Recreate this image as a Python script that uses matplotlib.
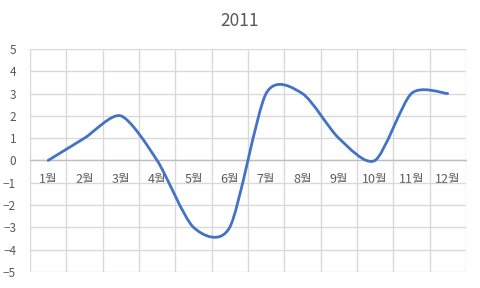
import matplotlib
matplotlib.use("Agg")
import matplotlib.pyplot as plt
import numpy as np
from matplotlib.path import Path
from matplotlib.patches import PathPatch

plt.rcParams['font.family'] = ['Noto Sans CJK KR', 'DejaVu Sans']

# chart data
months = ['1월', '2월', '3월', '4월', '5월', '6월',
          '7월', '8월', '9월', '10월', '11월', '12월']
values = [0, 1, 2, 0, -3, -3, 3, 3, 1, 0, 3, 3]
y_ticks = list(range(-5, 6))
title = '2011'

TEXT = '#595959'
GRID = '#D9D9D9'
LINE = '#4472C4'


def smooth_path(xs, ys, k=0.13):
    """Smoothed line like Excel: cubic Bezier segments through every point."""
    pts = np.column_stack([xs, ys]).astype(float)
    n = len(pts)
    verts = [pts[0]]
    codes = [Path.MOVETO]
    for i in range(n - 1):
        p0 = pts[i - 1] if i > 0 else pts[i]
        p1 = pts[i]
        p2 = pts[i + 1]
        p3 = pts[i + 2] if i + 2 < n else pts[i + 1]
        c1 = p1 + (p2 - p0) * k
        c2 = p2 - (p3 - p1) * k
        verts += [c1, c2, p2]
        codes += [Path.CURVE4] * 3
    return Path(verts, codes)


fig = plt.figure(figsize=(4.8, 2.88), dpi=100)
ax = fig.add_axes([0.0625, 0.056, 0.908, 0.774])

x = np.arange(len(months))
ax.set_xlim(-0.5, len(months) - 0.5)
ax.set_ylim(-5, 5)

# gridlines
ax.set_yticks(y_ticks)
ax.set_xticks(x)
ax.set_xticks(np.arange(-0.5, len(months)), minor=True)
ax.grid(True, axis='y', color=GRID, linewidth=1)
ax.grid(True, axis='x', which='minor', color=GRID, linewidth=1)
ax.grid(False, axis='x', which='major')
ax.set_axisbelow(True)

for side in ['top', 'right', 'left']:
    ax.spines[side].set_visible(False)
ax.spines['bottom'].set_position(('data', 0))
ax.spines['bottom'].set_color('#BFBFBF')
ax.spines['bottom'].set_linewidth(1)

ax.set_xticklabels(months)
ax.tick_params(axis='x', which='both', length=0, pad=9, labelsize=9, labelcolor=TEXT)
ax.tick_params(axis='y', length=0, pad=10, labelsize=8.5, labelcolor=TEXT)

patch = PathPatch(smooth_path(x, values), facecolor='none', edgecolor=LINE,
                  linewidth=2, capstyle='round', joinstyle='round', zorder=3)
ax.add_patch(patch)

fig.suptitle(title, x=0.5, y=0.96, fontsize=12.5, color=TEXT)

fig.savefig('out.png', dpi=100)
